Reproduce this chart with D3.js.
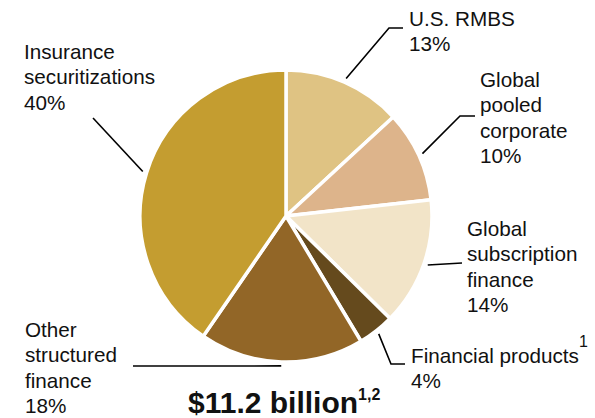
<!DOCTYPE html>
<html>
<head>
<meta charset="utf-8">
<script src="https://cdn.jsdelivr.net/npm/d3@7"></script>
<style>
  html, body { margin: 0; padding: 0; background: #fff; }
  svg { display: block; font-family: Arial, "Liberation Sans", sans-serif; }
</style>
</head>
<body>
<div id="chart"></div>
<script>
// Portfolio breakdown, clockwise from 12 o'clock
const categories = ['U.S. RMBS', 'Global pooled corporate', 'Global subscription finance',
                    'Financial products', 'Other structured finance', 'Insurance securitizations'];
const values = [13, 10, 14, 4, 18, 40];
const labelLines = [
    ['U.S. RMBS', '13%'],
    ['Global', 'pooled', 'corporate', '10%'],
    ['Global', 'subscription', 'finance', '14%'],
    ['Financial products', '4%'],
    ['Other', 'structured', 'finance', '18%'],
    ['Insurance', 'securitizations', '40%']
];
const colors = ['#dfc383', '#ddb48b', '#f2e4c8', '#654a1d', '#926627', '#c49d30'];
const totalLabel = '$11.2 billion';

const width = 595, height = 418;
const cx = 286, cy = 216, radius = 146;

// label anchor (first baseline) and leader line bend points, per slice
const layout = [
    { x: 409, y: 26,  path: [[389, 28], [403, 28]] },
    { x: 480, y: 87,  path: [[460, 116], [475, 116]] },
    { x: 467, y: 236, path: [[462, 263]] },
    { x: 411, y: 363, path: [[391, 364], [405, 364]] },
    { x: 25,  y: 337, path: [[133, 366]] },
    { x: 24,  y: 59,  path: [[93, 118]] }
];
const lineHeight = 25.3;

const svg = d3.select('#chart').append('svg')
    .attr('width', width)
    .attr('height', height);

const pie = d3.pie().sort(null).value(d => d);
const arcs = pie(values);

const arc = d3.arc().innerRadius(0).outerRadius(radius);
const edge = d3.arc().innerRadius(150).outerRadius(150);

const g = svg.append('g').attr('transform', `translate(${cx},${cy})`);

g.selectAll('path.slice')
    .data(arcs)
    .enter()
    .append('path')
    .attr('class', 'slice')
    .attr('d', arc)
    .attr('fill', (d, i) => colors[i])
    .attr('stroke', '#fff')
    .attr('stroke-width', 3.5)
    .attr('stroke-linejoin', 'round');

// leader lines
const line = d3.line();
svg.selectAll('path.leader')
    .data(arcs)
    .enter()
    .append('path')
    .attr('class', 'leader')
    .attr('d', (d, i) => {
        const [sx, sy] = edge.centroid(d);
        return line([[cx + sx, cy + sy], ...layout[i].path]);
    })
    .attr('fill', 'none')
    .attr('stroke', '#000')
    .attr('stroke-width', 1.6);

// labels
const labels = svg.selectAll('text.label')
    .data(labelLines)
    .enter()
    .append('text')
    .attr('class', 'label')
    .attr('x', (d, i) => layout[i].x)
    .attr('y', (d, i) => layout[i].y)
    .attr('font-size', '20.7px')
    .attr('fill', '#111');

labels.each(function(lines, i) {
    const t = d3.select(this);
    lines.forEach((s, j) => {
        t.append('tspan')
            .attr('x', layout[i].x)
            .attr('y', layout[i].y + j * lineHeight)
            .text(s);
    });
});

// footnote marker on Financial products
svg.append('text')
    .attr('x', 579)
    .attr('y', 347)
    .attr('font-size', '16px')
    .attr('fill', '#111')
    .text('1');

// total
const total = svg.append('text')
    .attr('x', 188)
    .attr('y', 413)
    .attr('font-size', '30px')
    .attr('font-weight', 'bold')
    .attr('fill', '#111');
total.append('tspan').text(totalLabel);
total.append('tspan')
    .attr('dy', -13)
    .attr('font-size', '16px')
    .text('1,2');
</script>
</body>
</html>
